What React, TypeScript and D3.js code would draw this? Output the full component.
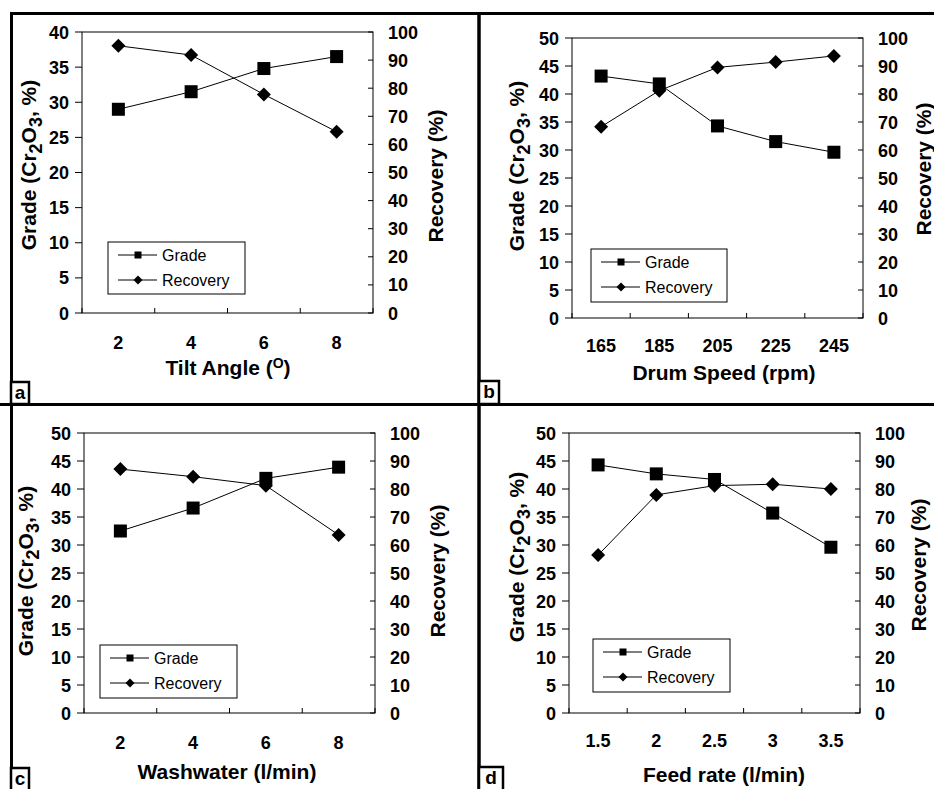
import React from 'react';
import * as d3 from 'd3';

// ---------- data ----------
const tiltAngle = ['2', '4', '6', '8'];
const gradeTilt = [29.0, 31.5, 34.8, 36.5];
const recoveryTilt = [95.1, 91.8, 77.8, 64.5];

const drumSpeed = ['165', '185', '205', '225', '245'];
const gradeDrum = [43.2, 41.8, 34.3, 31.5, 29.6];
const recoveryDrum = [68.3, 81.2, 89.5, 91.4, 93.6];

const washwater = ['2', '4', '6', '8'];
const gradeWash = [32.5, 36.6, 41.9, 43.9];
const recoveryWash = [87.1, 84.4, 81.2, 63.6];

const feedRate = ['1.5', '2', '2.5', '3', '3.5'];
const gradeFeed = [44.3, 42.7, 41.7, 35.7, 29.6];
const recoveryFeed = [56.4, 77.9, 81.2, 81.7, 80.0];

const gradeTicks40 = [0, 5, 10, 15, 20, 25, 30, 35, 40];
const gradeTicks50 = [0, 5, 10, 15, 20, 25, 30, 35, 40, 45, 50];
const recoveryTicks = [0, 10, 20, 30, 40, 50, 60, 70, 80, 90, 100];

const seriesNames = ['Grade', 'Recovery'];
const panelLetters = ['a', 'b', 'c', 'd'];
const xTitles = ['Tilt Angle (', 'Drum Speed (rpm)', 'Washwater (l/min)', 'Feed rate (l/min)'];
const tiltSup = 'O';
const tiltClose = ')';
const yLeftTitle = ['Grade (Cr', '2', 'O', '3', ', %)'];
const yRightTitle = 'Recovery (%)';

// ---------- layout ----------
const FONT = "'Liberation Sans', Arial, Helvetica, sans-serif";
const TICK_FS = 18;

const layouts = [
  { x0: 82, x1: 373, y0: 32, y1: 313, lTitleX: 36, lTitleY: 165, rTitleX: 443, rTitleY: 176, xTickY: 349, xTitleY: 375, xTitleX: 228, legend: { x: 108, y: 242, w: 137, h: 52 }, box: { x: 11, y: 382, w: 18, h: 22 } },
  { x0: 572, x1: 863, y0: 38, y1: 318, lTitleX: 524, lTitleY: 166, rTitleX: 931, rTitleY: 169, xTickY: 352, xTitleY: 380, xTitleX: 724, legend: { x: 591, y: 249, w: 136, h: 53 }, box: { x: 479, y: 381, w: 20, h: 23 } },
  { x0: 84, x1: 375, y0: 433, y1: 713, lTitleX: 33, lTitleY: 571, rTitleX: 445, rTitleY: 571, xTickY: 749, xTitleY: 779, xTitleX: 227, legend: { x: 100, y: 645, w: 137, h: 53 }, box: { x: 11, y: 768, w: 18, h: 24 } },
  { x0: 569, x1: 860, y0: 433, y1: 713, lTitleX: 524, lTitleY: 557, rTitleX: 926, rTitleY: 565, xTickY: 747, xTitleY: 782, xTitleX: 724, legend: { x: 593, y: 639, w: 137, h: 53 }, box: { x: 479, y: 767, w: 24, h: 25 } },
];

const panels = [
  { cats: tiltAngle, grade: gradeTilt, recovery: recoveryTilt, gTicks: gradeTicks40 },
  { cats: drumSpeed, grade: gradeDrum, recovery: recoveryDrum, gTicks: gradeTicks50 },
  { cats: washwater, grade: gradeWash, recovery: recoveryWash, gTicks: gradeTicks50 },
  { cats: feedRate, grade: gradeFeed, recovery: recoveryFeed, gTicks: gradeTicks50 },
];

const Square = ({ x, y, s }: { x: number; y: number; s: number }) => (
  <rect x={x - s / 2} y={y - s / 2} width={s} height={s} fill="#000" />
);
const Diamond = ({ x, y, s }: { x: number; y: number; s: number }) => (
  <path d={`M${x},${y - s / 2}L${x + s / 2},${y}L${x},${y + s / 2}L${x - s / 2},${y}Z`} fill="#000" />
);

function Panel({ idx }: { idx: number }) {
  const P = panels[idx];
  const L = layouts[idx];
  const x = d3.scaleBand<string>().domain(P.cats).range([L.x0, L.x1]).paddingInner(0).paddingOuter(0);
  const gMax = P.gTicks[P.gTicks.length - 1];
  const yL = d3.scaleLinear().domain([0, gMax]).range([L.y1, L.y0]);
  const yR = d3.scaleLinear().domain([0, 100]).range([L.y1, L.y0]);
  const cx = (c: string) => (x(c) as number) + x.bandwidth() / 2;
  const gradePts: [number, number][] = P.cats.map((c, i) => [cx(c), yL(P.grade[i])]);
  const recPts: [number, number][] = P.cats.map((c, i) => [cx(c), yR(P.recovery[i])]);
  const line = d3.line();
  const boundaries = [...P.cats.map((c) => x(c) as number), L.x1];
  const lg = L.legend;
  return (
    <g>
      <rect x={L.x0} y={L.y0} width={L.x1 - L.x0} height={L.y1 - L.y0} fill="none" stroke="#000" strokeWidth={1} />
      {P.gTicks.map((t) => (
        <g key={'l' + t}>
          <line x1={L.x0 - 7} x2={L.x0} y1={yL(t)} y2={yL(t)} stroke="#000" strokeWidth={1} />
          <text x={L.x0 - 13} y={yL(t) + 6.5} textAnchor="end" fontFamily={FONT} fontWeight="bold" fontSize={TICK_FS}>{t}</text>
        </g>
      ))}
      {recoveryTicks.map((t) => (
        <g key={'r' + t}>
          <line x1={L.x1 - 5} x2={L.x1} y1={yR(t)} y2={yR(t)} stroke="#000" strokeWidth={1} />
          <text x={L.x1 + 15} y={yR(t) + 6.5} textAnchor="start" fontFamily={FONT} fontWeight="bold" fontSize={TICK_FS}>{t}</text>
        </g>
      ))}
      {boundaries.map((b, i) => (
        <line key={'b' + i} x1={b} x2={b} y1={L.y1 - 5} y2={L.y1} stroke="#000" strokeWidth={1} />
      ))}
      {P.cats.map((c) => (
        <text key={'xc' + c} x={cx(c)} y={L.xTickY} textAnchor="middle" fontFamily={FONT} fontWeight="bold" fontSize={TICK_FS}>{c}</text>
      ))}
      <path d={line(gradePts) || ''} fill="none" stroke="#000" strokeWidth={1} />
      <path d={line(recPts) || ''} fill="none" stroke="#000" strokeWidth={1} />
      {gradePts.map((p, i) => <Square key={'s' + i} x={p[0]} y={p[1]} s={13} />)}
      {recPts.map((p, i) => <Diamond key={'d' + i} x={p[0]} y={p[1]} s={14} />)}
      <rect x={lg.x} y={lg.y} width={lg.w} height={lg.h} fill="#fff" stroke="#000" strokeWidth={1} />
      {seriesNames.map((n, i) => {
        const ly = lg.y + 13 + i * 25;
        return (
          <g key={n}>
            <line x1={lg.x + 10} x2={lg.x + 49} y1={ly} y2={ly} stroke="#000" strokeWidth={1} />
            {i === 0 ? <Square x={lg.x + 30} y={ly} s={7} /> : <Diamond x={lg.x + 30} y={ly} s={9} />}
            <text x={lg.x + 54} y={ly + 6} fontFamily={FONT} fontSize={16}>{n}</text>
          </g>
        );
      })}
      <text transform={`translate(${L.lTitleX},${L.lTitleY}) rotate(-90)`} textAnchor="middle" fontFamily={FONT} fontWeight="bold" fontSize={21}>
        <tspan>{yLeftTitle[0]}</tspan>
        <tspan dy={6} fontSize={18}>{yLeftTitle[1]}</tspan>
        <tspan dy={-6}>{yLeftTitle[2]}</tspan>
        <tspan dy={6} fontSize={18}>{yLeftTitle[3]}</tspan>
        <tspan dy={-6}>{yLeftTitle[4]}</tspan>
      </text>
      <text transform={`translate(${L.rTitleX},${L.rTitleY}) rotate(-90)`} textAnchor="middle" fontFamily={FONT} fontWeight="bold" fontSize={21}>{yRightTitle}</text>
      {idx === 0 ? (
        <text x={L.xTitleX} y={L.xTitleY} textAnchor="middle" fontFamily={FONT} fontWeight="bold" fontSize={21}>
          <tspan>{xTitles[0]}</tspan>
          <tspan dy={-7} fontSize={14}>{tiltSup}</tspan>
          <tspan dy={7}>{tiltClose}</tspan>
        </text>
      ) : (
        <text x={L.xTitleX} y={L.xTitleY} textAnchor="middle" fontFamily={FONT} fontWeight="bold" fontSize={21}>{xTitles[idx]}</text>
      )}
    </g>
  );
}

export default function App() {
  return (
    <svg width={934} height={789} style={{ position: 'absolute', left: 0, top: 0, background: '#fff' }}>
      <rect x={0} y={0} width={934} height={789} fill="#fff" />
      {panels.map((_, i) => <Panel key={i} idx={i} />)}
      <line x1={10} x2={934} y1={13.5} y2={13.5} stroke="#000" strokeWidth={3} />
      <line x1={11.5} x2={11.5} y1={12} y2={789} stroke="#000" strokeWidth={3} />
      <line x1={479} x2={479} y1={12} y2={789} stroke="#000" strokeWidth={3.5} />
      <line x1={0} x2={934} y1={404.5} y2={404.5} stroke="#000" strokeWidth={3} />
      {layouts.map((L, i) => (
        <g key={'box' + i}>
          <rect x={L.box.x} y={L.box.y} width={L.box.w} height={L.box.h} fill="#fff" stroke="#000" strokeWidth={2.5} />
          <text x={L.box.x + L.box.w / 2} y={L.box.y + 17} textAnchor="middle" fontFamily={FONT} fontWeight="bold" fontSize={19}>{panelLetters[i]}</text>
        </g>
      ))}
    </svg>
  );
}
